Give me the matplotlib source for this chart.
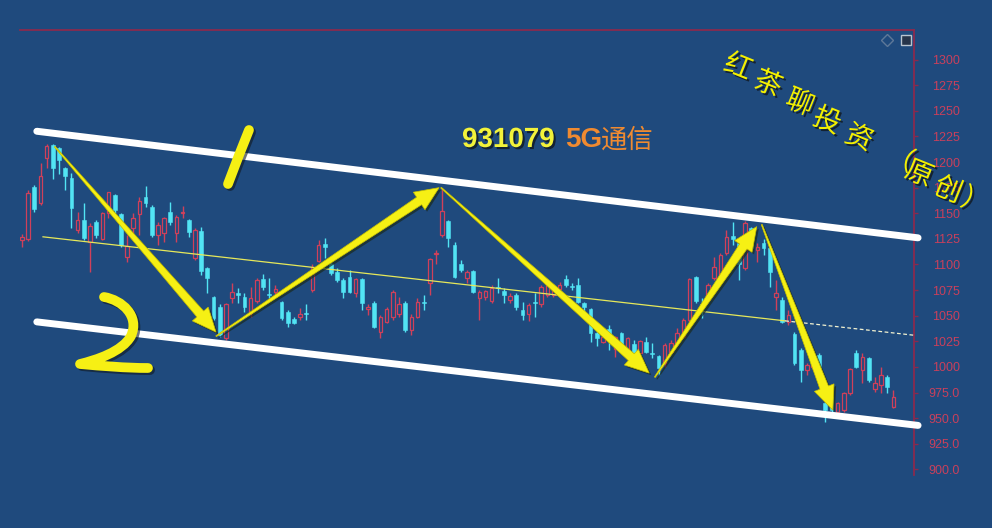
import numpy as np
import matplotlib
matplotlib.use("Agg")
import matplotlib.pyplot as plt
import matplotlib.patheffects as pe
from matplotlib.patches import Polygon, PathPatch
from matplotlib.path import Path

W, H = 992, 528
BG = '#1f4a7d'
RED = '#d0405a'
CYAN = '#52e4f4'
AXIS = '#8a2a4e'
LABEL = '#c8405c'
YEL = '#f6f014'

# daily candles (open, high, low, close)
opens = [1124, 1125, 1176, 1160, 1204, 1217, 1214, 1194, 1184, 1134,
         1143, 1122, 1141, 1125, 1150, 1168, 1149, 1107, 1136, 1149,
         1166, 1156, 1129, 1131, 1151, 1131, 1150, 1143, 1106, 1133,
         1097, 1068, 1059, 1028, 1067, 1072, 1068, 1053, 1064, 1086,
         1071, 1073, 1063, 1054, 1047, 1049, 1053, 1075, 1103, 1120,
         1100, 1093, 1085, 1088, 1072, 1086, 1057, 1062, 1034, 1044,
         1049, 1052, 1062, 1036, 1049, 1063, 1082, 1110, 1129, 1142,
         1119, 1100, 1087, 1094, 1067, 1068, 1064, 1078, 1074, 1065,
         1070, 1056, 1052, 1063, 1061, 1070, 1070, 1076, 1086, 1079,
         1080, 1062, 1057, 1033, 1024, 1037, 1018, 1033, 1017, 1022,
         1014, 1024, 1014, 1011, 1004, 1015, 1023, 1029, 1046, 1088,
         1061, 1065, 1087, 1088, 1111, 1128, 1121, 1097, 1136, 1114,
         1121, 1116, 1068, 1065, 1044, 1032, 1017, 997, 1000, 1012,
         965, 971, 956, 958, 975, 1014, 997, 1009, 979, 982,
         990, 961]
highs = [1130, 1173, 1178, 1199, 1218, 1218, 1215, 1195, 1189, 1151,
         1160, 1140, 1143, 1151, 1171, 1169, 1150, 1129, 1150, 1166,
         1177, 1158, 1141, 1146, 1161, 1148, 1157, 1144, 1136, 1137,
         1098, 1069, 1061, 1062, 1082, 1077, 1072, 1078, 1087, 1091,
         1087, 1080, 1064, 1056, 1049, 1058, 1061, 1100, 1124, 1126,
         1102, 1097, 1087, 1095, 1087, 1087, 1061, 1064, 1051, 1059,
         1075, 1068, 1064, 1052, 1067, 1070, 1106, 1114, 1175, 1143,
         1122, 1104, 1095, 1095, 1075, 1075, 1080, 1087, 1077, 1072,
         1072, 1063, 1062, 1072, 1080, 1083, 1081, 1083, 1090, 1082,
         1087, 1063, 1058, 1038, 1031, 1041, 1030, 1034, 1029, 1026,
         1026, 1029, 1023, 1012, 1023, 1026, 1038, 1048, 1087, 1089,
         1067, 1082, 1107, 1111, 1134, 1141, 1122, 1142, 1137, 1121,
         1125, 1117, 1085, 1068, 1056, 1034, 1019, 1004, 1009, 1014,
         970, 972, 966, 976, 999, 1017, 1014, 1010, 990, 1000,
         992, 978]
lows = [1117, 1123, 1151, 1158, 1194, 1183, 1188, 1173, 1136, 1131,
        1124, 1093, 1126, 1124, 1145, 1150, 1117, 1102, 1129, 1129,
        1156, 1127, 1119, 1122, 1139, 1122, 1145, 1127, 1104, 1090,
        1072, 1046, 1029, 1026, 1062, 1062, 1054, 1049, 1062, 1075,
        1067, 1070, 1046, 1039, 1042, 1046, 1046, 1073, 1102, 1106,
        1090, 1083, 1067, 1072, 1068, 1056, 1051, 1038, 1028, 1043,
        1046, 1049, 1034, 1031, 1048, 1056, 1070, 1100, 1127, 1117,
        1087, 1093, 1082, 1072, 1046, 1065, 1062, 1072, 1062, 1062,
        1056, 1046, 1045, 1049, 1059, 1068, 1068, 1075, 1078, 1075,
        1062, 1054, 1024, 1020, 1023, 1017, 1010, 1019, 1015, 1007,
        1012, 1014, 1009, 992, 1000, 1014, 1021, 1028, 1044, 1062,
        1048, 1063, 1085, 1086, 1109, 1119, 1085, 1095, 1114, 1102,
        1109, 1078, 1056, 1043, 1041, 1002, 985, 992, 997, 994,
        946, 955, 955, 956, 973, 999, 984, 985, 976, 975,
        975, 960]
closes = [1127, 1170, 1154, 1186, 1216, 1194, 1202, 1186, 1155, 1143,
          1126, 1138, 1129, 1150, 1171, 1153, 1119, 1118, 1145, 1162,
          1160, 1129, 1139, 1145, 1141, 1146, 1151, 1132, 1134, 1094,
          1087, 1048, 1031, 1061, 1073, 1070, 1059, 1067, 1085, 1078,
          1070, 1076, 1048, 1043, 1043, 1052, 1052, 1098, 1119, 1117,
          1092, 1085, 1073, 1073, 1086, 1062, 1059, 1039, 1049, 1057,
          1073, 1061, 1036, 1049, 1063, 1062, 1105, 1111, 1152, 1126,
          1088, 1095, 1093, 1073, 1073, 1074, 1077, 1077, 1070, 1069,
          1059, 1051, 1060, 1062, 1078, 1080, 1078, 1080, 1080, 1078,
          1063, 1059, 1033, 1028, 1029, 1029, 1029, 1021, 1028, 1012,
          1025, 1015, 1013, 999, 1021, 1023, 1033, 1046, 1086, 1064,
          1059, 1080, 1098, 1109, 1127, 1125, 1100, 1140, 1116, 1117,
          1116, 1093, 1072, 1044, 1051, 1004, 997, 1002, 1005, 995,
          958, 958, 965, 975, 998, 1000, 1010, 987, 984, 992,
          980, 971]

y_ticks = list(range(900, 1301, 25))

# hand-drawn annotations, in (bar index, price)
upper_channel = [(2.4, 1230), (145.0, 1126)]
lower_channel = [(2.4, 1044), (145.0, 943)]
mid_trend = [(3.4, 1127), (123.5, 1045), (144.3, 1031)]
arrows = [((5.3, 1215), (31.4, 1034)),
          ((31.4, 1030), (67.5, 1175)),
          ((67.8, 1175), (101.5, 994)),
          ((102.4, 990), (118.9, 1137)),
          ((119.7, 1139), (131.2, 958))]

o = np.array(opens, float)
h = np.array(highs, float)
l = np.array(lows, float)
c = np.array(closes, float)
idx = np.arange(len(c))
up = c >= o

fig = plt.figure(figsize=(W / 100, H / 100), dpi=100, facecolor=BG)
ax = fig.add_axes([20 / W, 1 - 475 / H, 894 / W, 445 / H], facecolor=BG)
ax.set_xlim(-0.32, 144.34)
ax.set_ylim(894.6, 1328.8)

# candles
ax.vlines(idx, l, h, colors=np.where(up, RED, CYAN), lw=1.0, zorder=2)
bot = np.minimum(o, c)
hgt = np.maximum(np.abs(c - o), 0.8)
ax.bar(idx[up], hgt[up], bottom=bot[up], width=0.56, facecolor=BG,
       edgecolor=RED, lw=0.9, zorder=2.1)
ax.bar(idx[~up], hgt[~up], bottom=bot[~up], width=0.62, color=CYAN,
       edgecolor=CYAN, lw=0.4, zorder=2.1)

# thin yellow trend line (solid, then dashed)
ax.plot([p[0] for p in mid_trend[:2]], [p[1] for p in mid_trend[:2]],
        color='#e6e85a', lw=0.9, zorder=3)
ax.plot([p[0] for p in mid_trend[1:]], [p[1] for p in mid_trend[1:]],
        color='#f2f2d0', lw=0.9, ls=(0, (3, 2)), zorder=3)

# white channel
for ln in (upper_channel, lower_channel):
    ax.plot([p[0] for p in ln], [p[1] for p in ln], color='white', lw=5,
            solid_capstyle='round', zorder=4, clip_on=False)


def taper_arrow(p0, p1, w0=1.0, w1=9.0, hw=21.0, hl=24.0):
    a = ax.transData.transform(p0)
    b = ax.transData.transform(p1)
    d = b - a
    u = d / np.hypot(*d)
    n = np.array([-u[1], u[0]])
    m = b - u * hl
    pts = [a + n * w0 / 2, m + n * w1 / 2, m + n * hw / 2, b,
           m - n * hw / 2, m - n * w1 / 2, a - n * w0 / 2]
    verts = ax.transData.inverted().transform(np.array(pts))
    poly = Polygon(verts, closed=True, facecolor=YEL, edgecolor='#c8c000',
                   lw=0.5, zorder=5, clip_on=False)
    poly.set_path_effects([pe.SimplePatchShadow(offset=(1.5, -1.5),
                                                shadow_rgbFace='#1a2a20',
                                                alpha=0.7), pe.Normal()])
    ax.add_patch(poly)


for p0, p1 in arrows:
    taper_arrow(p0, p1)

# axes frame / right price scale
for s in ('left', 'bottom'):
    ax.spines[s].set_visible(False)
for s in ('top', 'right'):
    ax.spines[s].set_color(AXIS)
    ax.spines[s].set_linewidth(1.3)
ax.set_xticks([])
ax.yaxis.tick_right()
ax.set_yticks(y_ticks)
ax.set_yticklabels([f'{v:.0f}' if v >= 1000 else f'{v:.1f}' for v in y_ticks])
ax.tick_params(axis='y', colors=AXIS, labelcolor=LABEL, length=3,
               width=1, pad=30, labelsize=9)
for t in ax.get_yticklabels():
    t.set_ha('right')
    t.set_fontfamily('Liberation Sans')


def fpx(x, y):
    return (x / W, 1 - y / H)


shadow = [pe.SimplePatchShadow(offset=(1.5, -1.5), shadow_rgbFace='#101820',
                               alpha=0.8), pe.Normal()]
line_shadow = [pe.SimpleLineShadow(offset=(1.5, -1.5), shadow_color='#101820',
                                   alpha=0.6), pe.Normal()]

# title
fig.text(*fpx(462, 147), '931079', color='#f2f23a', fontsize=20,
         fontweight='bold', family='Liberation Sans', va='baseline',
         path_effects=shadow)
fig.text(*fpx(565, 147), '5G', color='#f08a30', fontsize=20,
         fontweight='bold', family='Liberation Sans', va='baseline')
fig.text(*fpx(601, 148), '通信', color='#f08a30', fontsize=19,
         family=['Noto Sans CJK SC', 'DejaVu Sans'], va='baseline')

# diagonal watermark
marks = [('红', 738, 67), ('茶', 768, 84), ('聊', 800, 103), ('投', 827, 121),
         ('资', 859, 138), ('（', 900, 159), ('原', 919, 174), ('创', 948, 190),
         ('）', 975, 202)]
for ch, x, y in marks:
    fig.text(*fpx(x, y), ch, color='#f4f000', fontsize=20, rotation=-22,
             ha='center', va='center', fontweight='medium',
             family=['Noto Sans CJK SC', 'DejaVu Sans'], path_effects=shadow)

# hand-written "1" and "2"
one = Path([fpx(249, 130), fpx(240, 152), fpx(228, 184)],
           [Path.MOVETO, Path.CURVE3, Path.CURVE3])
two = Path([fpx(104, 297), fpx(122, 300), fpx(140, 316), fpx(131, 336),
            fpx(122, 352), fpx(96, 360), fpx(80, 364),
            fpx(102, 366), fpx(126, 368), fpx(148, 368)],
           [Path.MOVETO] + [Path.CURVE4] * 9)
for pth in (one, two):
    fig.add_artist(PathPatch(pth, transform=fig.transFigure, fill=False,
                             edgecolor=YEL, lw=7, capstyle='round',
                             joinstyle='round', path_effects=line_shadow))

# small toolbar icons at top right
fig.add_artist(plt.Line2D([887 / W], [1 - 40 / H], marker='D', ms=6,
                          mfc='none', mec='#5e7898', mew=1,
                          transform=fig.transFigure))
fig.add_artist(plt.Line2D([906 / W], [1 - 40 / H], marker='s', ms=7,
                          mfc='#26344a', mec='#b8c4d0', mew=1,
                          transform=fig.transFigure))

fig.savefig('out.png', dpi=100, facecolor=BG)
